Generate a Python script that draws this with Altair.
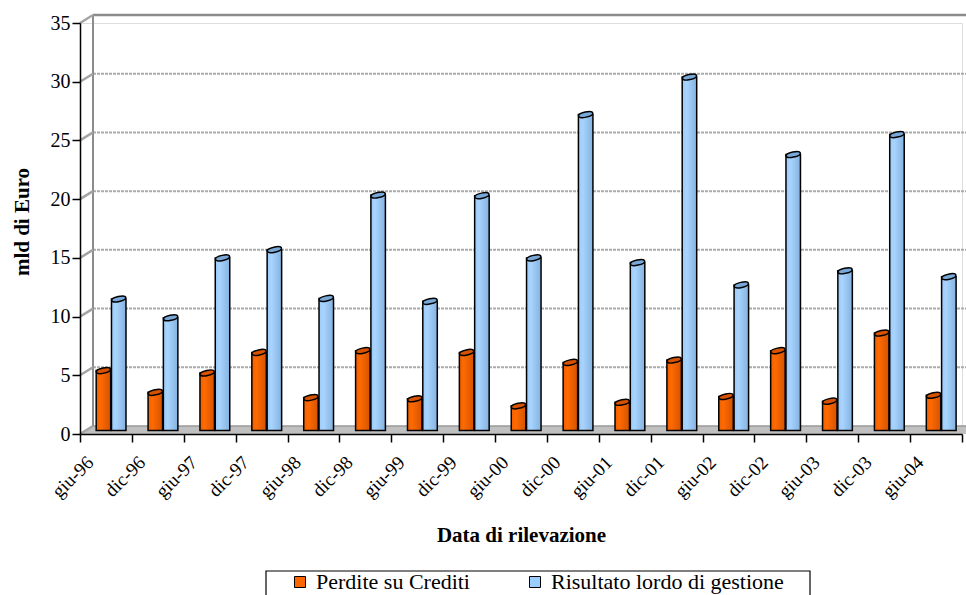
import altair as alt
import pandas as pd

# ---- data -------------------------------------------------------------
dates = ["giu-96", "dic-96", "giu-97", "dic-97", "giu-98", "dic-98", "giu-99",
         "dic-99", "giu-00", "dic-00", "giu-01", "dic-01", "giu-02", "dic-02",
         "giu-03", "dic-03", "giu-04"]
perdite = [5.1, 3.25, 4.9, 6.65, 2.8, 6.8, 2.7, 6.65, 2.1, 5.8, 2.4, 6.0, 2.9, 6.8, 2.5, 8.3, 3.0]
risultato = [11.2, 9.6, 14.7, 15.4, 11.25, 20.05, 11.0, 20.0, 14.7, 26.9, 14.3, 30.1, 12.4, 23.5, 13.6, 25.2, 13.1]
series_names = ["Perdite su Crediti", "Risultato lordo di gestione"]
y_ticks = [0, 5, 10, 15, 20, 25, 30, 35]

rows = []
for d, p, r in zip(dates, perdite, risultato):
    rows.append({"data": d, "serie": series_names[0], "valore": p})
    rows.append({"data": d, "serie": series_names[1], "valore": r})
table = pd.DataFrame(rows)
grid = pd.DataFrame({"valore": y_ticks})

# ---- layout / style ---------------------------------------------------
W, H = 882, 411          # plot area
DX, DY = 13, -8          # depth of the 3-D box (back wall offset)
FONT = "Liberation Serif"
BAR_W = 14.5

x_scale = alt.Scale(domain=dates, paddingInner=0, paddingOuter=0)
y_scale = alt.Scale(domain=[0, 35], nice=False, zero=True)

x_axis = alt.Axis(
    title="Data di rilevazione", titleFont=FONT, titleFontSize=21,
    titleFontWeight="bold", titleColor="black", titleY=107,
    titleBaseline="alphabetic",
    labelAngle=-45, labelFont=FONT, labelFontSize=19, labelColor="black",
    labelAlign="right", labelBaseline="middle", labelPadding=17, labelOffset=-16,
    labelOverlap=False,
    tickBand="extent", tickSize=8, tickColor="black", tickWidth=1.5,
    domainColor="black", domainWidth=1.5, grid=False, zindex=1,
)
y_axis = alt.Axis(
    values=y_ticks, title="mld di Euro", titleFont=FONT, titleFontSize=21,
    titleFontWeight="bold", titleColor="black", titleAngle=270,
    titleX=-52, titleY=198.5, titleAlign="center", titleBaseline="alphabetic",
    labelFont=FONT, labelFontSize=20, labelColor="black", labelPadding=2,
    tickSize=8, tickColor="black", tickWidth=1.5,
    domainColor="black", domainWidth=1.5, grid=False, zindex=1,
)


def y_enc():
    return alt.Y("valore:Q", scale=y_scale, axis=y_axis)


ELLIPSE = ("M -0.978 0.208 A 1 0.36 -12 0 1 0.978 -0.208 "
           "A 1 0.36 -12 0 1 -0.978 0.208 Z")
CORNER = "M -1 -0.615 L 1 -0.615 L -1 0.615 Z"

walls = alt.Chart(grid)
bottom = walls.transform_filter(alt.datum.valore == 0)
top = walls.transform_filter(alt.datum.valore == 35)

# ---- the 3-D box: floor, back wall, grid ------------------------------
floor = bottom.mark_rect(color="#c0c0c0", yOffset=DY).encode(
    x=alt.value(0), x2=alt.value(W + DX), y=y_enc(), y2="valore:Q",
)
floor_back = bottom.mark_rule(color="#9a9a9a", strokeWidth=1.5, yOffset=DY).encode(
    x=alt.value(DX), x2=alt.value(W + DX), y=y_enc(),
)
floor_corner = bottom.mark_point(
    shape=CORNER, size=169, filled=True, fill="white", opacity=1,
    strokeWidth=0, yOffset=DY / 2,
).encode(x=alt.value(DX / 2), y=y_enc())
back_grid = walls.transform_filter(
    (alt.datum.valore > 0) & (alt.datum.valore < 35)
).mark_rule(color="#ababab", strokeWidth=2, strokeDash=[3, 1], yOffset=DY).encode(
    x=alt.value(DX), x2=alt.value(W + DX), y=y_enc(),
)
top_edge = top.mark_rule(color="#8c8c8c", strokeWidth=2.5, yOffset=DY).encode(
    x=alt.value(DX), x2=alt.value(W + DX), y=y_enc(),
)
wall_edge = top.mark_rule(
    color="#8c8c8c", strokeWidth=2, yOffset=DY, y2Offset=DY
).encode(x=alt.value(DX), y=y_enc(), y2=alt.datum(0))
side_ticks = walls.mark_rule(color="#a4a4a4", strokeWidth=2.5, y2Offset=DY).encode(
    x=alt.value(0), x2=alt.value(DX), y=y_enc(), y2="valore:Q",
)


# ---- cylinders ---------------------------------------------------------
def cylinder(name, stops, top_fill, shift):
    base = alt.Chart(table).transform_filter(alt.datum.serie == name)
    grad = alt.Gradient(
        gradient="linear", x1=0, x2=1, y1=0, y2=0,
        stops=[alt.GradientStop(offset=o, color=c) for o, c in stops],
    )
    xenc = alt.X("data:N", scale=x_scale, sort=dates, axis=x_axis)
    body = base.mark_bar(
        fill=grad, stroke="black", strokeWidth=1.5, width=BAR_W,
        xOffset=shift, yOffset=DY / 2 + 0.5, y2Offset=DY / 2 + 0.5,
    ).encode(x=xenc, y=y_enc())
    cap = base.mark_point(
        shape=ELLIPSE, size=BAR_W ** 2, filled=True, fill=top_fill, opacity=1,
        stroke="black", strokeWidth=1.5, xOffset=shift, yOffset=DY / 2 + 0.5,
    ).encode(x=xenc, y=y_enc())
    return body + cap


orange = cylinder(
    series_names[0],
    [(0, "#f06000"), (0.3, "#ff6a00"), (1, "#d45300")],
    "#d65200", -2.5,
)
blue = cylinder(
    series_names[1],
    [(0, "#9ccbf7"), (0.3, "#a8d4ff"), (1, "#84b2de")],
    "#78a8d8", 12.8,
)

# ---- legend frame and legend ------------------------------------------
legend_frame = bottom.mark_rect(
    fill="white", stroke="black", strokeWidth=1.2
).encode(
    x=alt.value(186), x2=alt.value(730),
    y=alt.value(548), y2=alt.value(610),
)

legend_layer = alt.Chart(table).mark_bar(strokeWidth=0).encode(
    x=alt.value(0), x2=alt.value(0),
    y=alt.Y("valore:Q", scale=y_scale, axis=y_axis), y2=alt.datum(0),
    opacity=alt.value(0),
    fill=alt.Fill(
        "serie:N",
        scale=alt.Scale(domain=series_names, range=["#ff6600", "#99ccff"]),
        legend=alt.Legend(
            orient="none", legendX=209, legendY=548, direction="horizontal",
            title=None, symbolType="square", symbolSize=121,
            symbolStrokeColor="black", symbolStrokeWidth=1, symbolOpacity=1,
            labelFont=FONT, labelFontSize=22, labelColor="black",
            labelLimit=500, labelOffset=5, columnPadding=54, padding=0,
        ),
    ),
)

chart = alt.layer(
    floor, floor_back, floor_corner, back_grid, top_edge, wall_edge,
    side_ticks, orange, blue, legend_frame, legend_layer,
).properties(
    width=W, height=H,
    autosize=alt.AutoSizeParams(type="none"),
    padding={"left": 80, "top": 23, "right": 4, "bottom": 161},
    background="white",
).configure_view(stroke=None).configure(font=FONT)

chart.save("out.html", embed_options={"renderer": "svg", "actions": False})
